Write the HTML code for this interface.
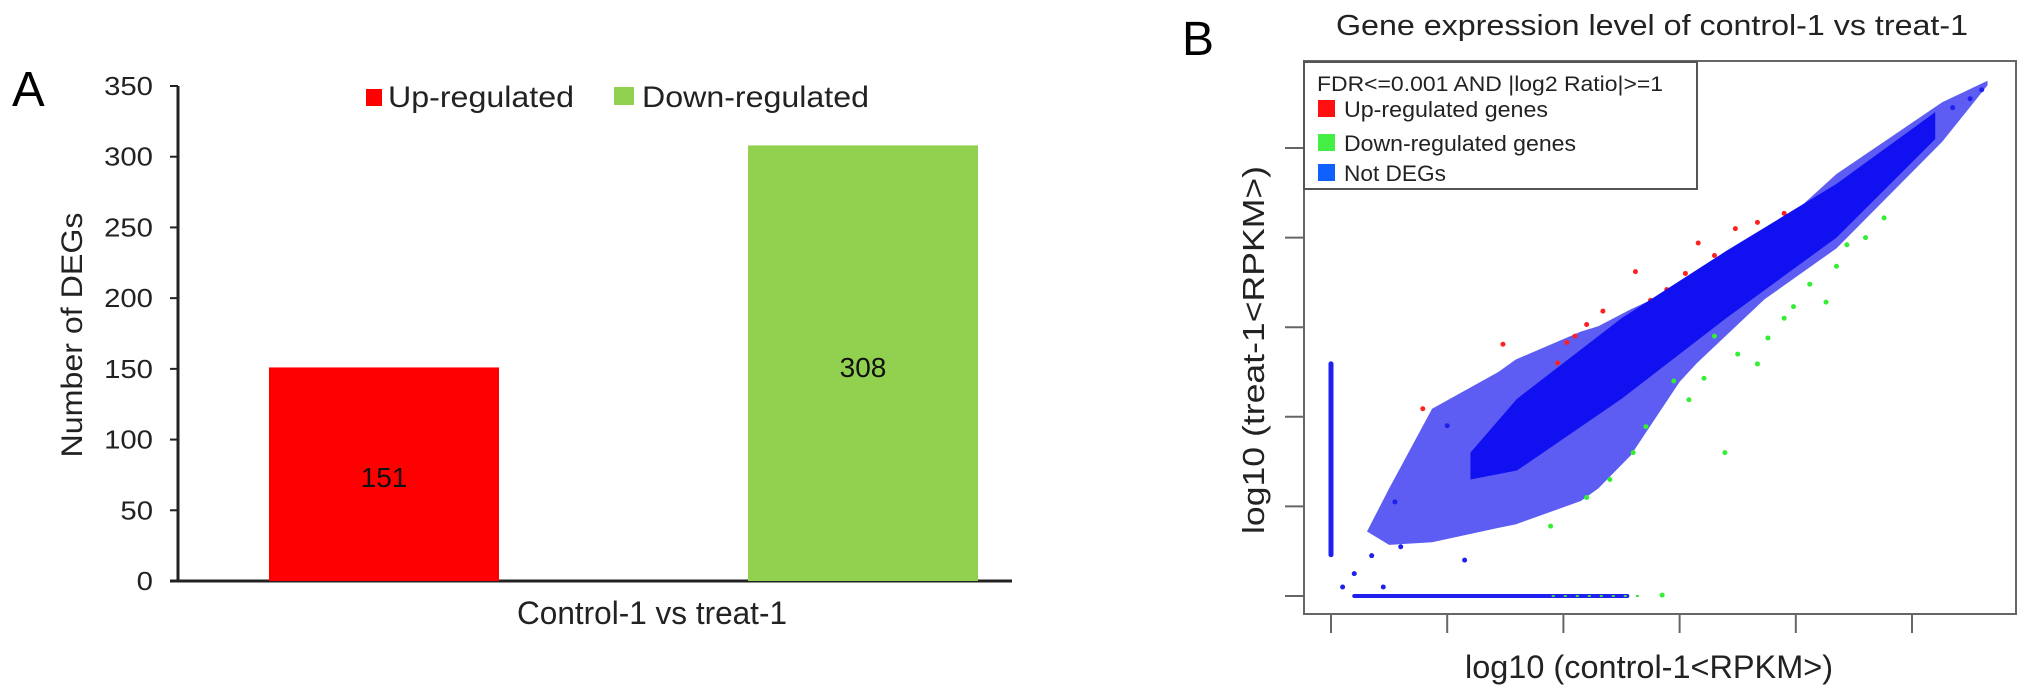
<!DOCTYPE html>
<html><head><meta charset="utf-8"><style>
html,body{margin:0;padding:0;background:#fff;}
svg{display:block;font-family:"Liberation Sans",Arial,sans-serif;}
</style></head><body>
<svg id="fig" width="2032" height="695" viewBox="0 0 2032 695" xmlns="http://www.w3.org/2000/svg">
<g id="panelA"></g>
<g id="panelB"></g>
</svg>
<script>
// ---- Panel A data ----
const barCategories = ["Up-regulated", "Down-regulated"];
const barValues = [151, 308];
const barColors = ["#ff0000", "#92d050"];
const yTicksA = [0, 50, 100, 150, 200, 250, 300, 350];

// ---- Panel B data (log10 RPKM units) ----
const xTicksB = [0, 1, 2, 3, 4, 5];
const yTicksB = [0, 1, 2, 3, 4, 5];
const cloudX     = [0.31, 0.5, 0.87, 1.44, 1.59, 2.15, 2.3, 2.58, 3.0, 3.15, 3.73, 4.35, 5.26, 5.65];
const cloudLow   = [0.72, 0.57, 0.6, 0.76, 0.8, 1.06, 1.2, 1.57, 2.39, 2.6, 3.31, 3.88, 5.07, 5.7];
const cloudHigh  = [0.72, 1.2, 2.09, 2.5, 2.64, 2.95, 3.01, 3.2, 3.45, 3.53, 3.98, 4.71, 5.51, 5.75];
const coreX    = [1.2, 1.6, 2.5, 3.4, 4.35, 5.2];
const coreLow  = [1.3, 1.4, 2.2, 3.1, 4.0, 5.1];
const coreHigh = [1.6, 2.2, 3.1, 3.85, 4.6, 5.4];
const vStripY = [0.46, 2.59];
const hStripX = [0.2, 2.55];
const greenStripX = [1.9, 2.7];
const upX = [0.79, 1.48, 2.03, 2.34, 2.62, 3.16, 3.48, 3.9, 4.12, 2.89, 2.2, 3.67, 2.45, 2.75, 3.3, 1.95, 2.1, 3.05, 3.8, 4.3];
const upY = [2.09, 2.81, 2.83, 3.18, 3.62, 3.94, 4.1, 4.27, 4.37, 3.42, 3.03, 4.17, 3.0, 3.3, 3.8, 2.6, 2.9, 3.6, 4.1, 4.5];
const downX = [1.89, 2.85, 3.39, 3.67, 3.98, 4.35, 4.76, 4.26, 3.08, 2.71, 3.76, 4.44, 4.12, 3.21, 2.4, 2.6, 3.5, 3.9, 2.95, 3.3, 4.6, 2.2];
const downY = [0.78, 0.01, 1.6, 2.59, 3.23, 3.68, 4.22, 3.28, 2.19, 1.89, 2.88, 3.92, 3.48, 2.43, 1.3, 1.6, 2.7, 3.1, 2.4, 2.9, 4.0, 1.1];
const blueX = [0.2, 0.35, 0.45, 0.6, 1.15, 1.0, 5.5, 5.35, 5.6, 0.1, 0.55];
const blueY = [0.25, 0.45, 0.1, 0.55, 0.4, 1.9, 5.55, 5.45, 5.65, 0.1, 1.05];

const NS = "http://www.w3.org/2000/svg";
function mk(parent, tag, attrs, text) {
  const e = document.createElementNS(NS, tag);
  for (const k in attrs) e.setAttribute(k, attrs[k]);
  if (text !== undefined) e.textContent = text;
  parent.appendChild(e);
  return e;
}

// ===== Panel A =====
const A = document.getElementById("panelA");
const ax0 = 178, axR = 1012, ay0 = 581, ay350 = 86;
const yA = v => ay0 - (v / 350) * (ay0 - ay350);
const barLeft = [269, 748], barW = 230;

let t = mk(A, "text", {x: 12, y: 106, "font-size": 49}, "A");



let l = mk(A, "line", {x1: ax0, y1: ay350, x2: ax0, y2: ay0 + 1, stroke: "#222", "stroke-width": 3});


l = mk(A, "line", {x1: ax0 - 8, y1: ay0, x2: axR, y2: ay0, stroke: "#222", "stroke-width": 3});



yTicksA.forEach(v => {
  const y = yA(v);
  const tk = mk(A, "line", {x1: ax0 - 8, y1: y, x2: ax0, y2: y, stroke: "#222", "stroke-width": 2});
  
  
  const s = String(v);
  const tl = mk(A, "text", {x: 153, y: y + 9, "font-size": 26, "text-anchor": "end", fill: "#222", textLength: s.length * 16.3, lengthAdjust: "spacingAndGlyphs"}, s);
  
  
});

barValues.forEach((v, i) => {
  const r = mk(A, "rect", {x: barLeft[i], y: yA(v), width: barW, height: ay0 - yA(v), fill: barColors[i]});
  
  
  const vl = mk(A, "text", {x: barLeft[i] + barW / 2, y: i === 0 ? 487 : 377, "font-size": 28, "text-anchor": "middle", fill: "#111"}, String(v));
  
  
});

let s = mk(A, "rect", {x: 366, y: 89, width: 16, height: 17, fill: barColors[0]});


t = mk(A, "text", {x: 388, y: 107, "font-size": 30, fill: "#222", textLength: 186, lengthAdjust: "spacingAndGlyphs"}, "Up-regulated");


s = mk(A, "rect", {x: 614, y: 87, width: 20, height: 18, fill: barColors[1]});


t = mk(A, "text", {x: 642, y: 107, "font-size": 30, fill: "#222", textLength: 227, lengthAdjust: "spacingAndGlyphs"}, "Down-regulated");



t = mk(A, "text", {x: 0, y: 0, "font-size": 30, "text-anchor": "middle", fill: "#222", textLength: 245, lengthAdjust: "spacingAndGlyphs", transform: "translate(82,335) rotate(-90)"}, "Number of DEGs");


t = mk(A, "text", {x: 517, y: 624, "font-size": 32, fill: "#222", textLength: 270, lengthAdjust: "spacingAndGlyphs"}, "Control-1 vs treat-1");



// ===== Panel B =====
const B = document.getElementById("panelB");
const bx = v => 1331 + v * 116.2;
const by = v => 596 - v * 89.6;

t = mk(B, "text", {x: 1182, y: 55, "font-size": 48}, "B");


t = mk(B, "text", {x: 1652, y: 35, "font-size": 29, "text-anchor": "middle", fill: "#222", textLength: 632, lengthAdjust: "spacingAndGlyphs"}, "Gene expression level of control-1 vs treat-1");



function band(xs, lo, hi) {
  let d = "M" + xs.map((x, i) => bx(x) + "," + by(hi[i])).join(" L");
  for (let i = xs.length - 1; i >= 0; i--) d += " L" + bx(xs[i]) + "," + by(lo[i]);
  return d + " Z";
}
let p = mk(B, "path", {d: band(cloudX, cloudLow, cloudHigh), fill: "#3535f0", opacity: 0.8});



upX.forEach((x, i) => {
  const c = mk(B, "circle", {cx: bx(x), cy: by(upY[i]), r: 2.5, fill: "#ff2020"});
  
  
});
downX.forEach((x, i) => {
  const c = mk(B, "circle", {cx: bx(x), cy: by(downY[i]), r: 2.5, fill: "#33ee33"});
  
  
});

p = mk(B, "path", {d: band(coreX, coreLow, coreHigh), fill: "#1010f0"});



blueX.forEach((x, i) => {
  const c = mk(B, "circle", {cx: bx(x), cy: by(blueY[i]), r: 2.5, fill: "#2020ee"});
  
  
});

l = mk(B, "line", {x1: bx(0), y1: by(vStripY[0]), x2: bx(0), y2: by(vStripY[1]), stroke: "#2020ee", "stroke-width": 5, "stroke-linecap": "round"});


l = mk(B, "line", {x1: bx(hStripX[0]), y1: by(0), x2: bx(hStripX[1]), y2: by(0), stroke: "#2020ee", "stroke-width": 4, "stroke-linecap": "round"});


l = mk(B, "line", {x1: bx(greenStripX[0]), y1: by(0), x2: bx(greenStripX[1]), y2: by(0), stroke: "#44dd44", "stroke-width": 2, "stroke-dasharray": "3 9"});



let r = mk(B, "rect", {x: 1304, y: 61, width: 712, height: 553, fill: "none", stroke: "#666", "stroke-width": 2});



yTicksB.forEach(v => {
  const tk = mk(B, "line", {x1: 1285, y1: by(v), x2: 1304, y2: by(v), stroke: "#666", "stroke-width": 2});
  
  
});
xTicksB.forEach(v => {
  const tk = mk(B, "line", {x1: bx(v), y1: 614, x2: bx(v), y2: 633, stroke: "#666", "stroke-width": 2});
  
  
});

r = mk(B, "rect", {x: 1304, y: 62, width: 393, height: 127, fill: "#fff", stroke: "#555", "stroke-width": 2});


t = mk(B, "text", {x: 1317, y: 91, "font-size": 21, fill: "#222", textLength: 346, lengthAdjust: "spacingAndGlyphs"}, "FDR<=0.001 AND |log2 Ratio|>=1");


const legLabels = ["Up-regulated genes", "Down-regulated genes", "Not DEGs"];
const legColors = ["#ff1010", "#44ee44", "#1060ff"];
const legY = [109, 143, 173];
const legW = [204, 232, 102];
legLabels.forEach((lab, i) => {
  const sw = mk(B, "rect", {x: 1318, y: legY[i] - 9, width: 17, height: 17, fill: legColors[i]});
  
  
  const tx = mk(B, "text", {x: 1344, y: legY[i] + 8, "font-size": 22, fill: "#222", textLength: legW[i], lengthAdjust: "spacingAndGlyphs"}, lab);
  
  
});

t = mk(B, "text", {x: 0, y: 0, "font-size": 31, "text-anchor": "middle", fill: "#222", textLength: 368, lengthAdjust: "spacingAndGlyphs", transform: "translate(1264,350) rotate(-90)"}, "log10 (treat-1<RPKM>)");


t = mk(B, "text", {x: 1465, y: 678, "font-size": 32, fill: "#222", textLength: 368, lengthAdjust: "spacingAndGlyphs"}, "log10 (control-1<RPKM>)");


</script>
</body></html>
